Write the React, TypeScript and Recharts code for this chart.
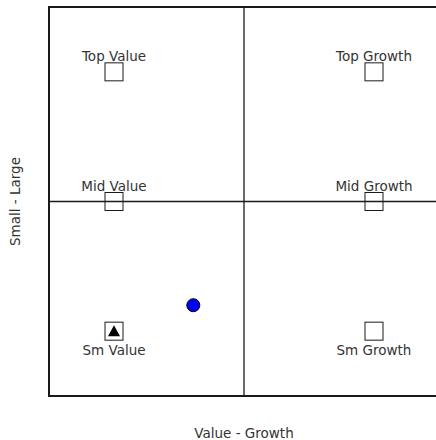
import {
  ReferenceArea,
  ReferenceLine,
  Scatter,
  ScatterChart,
  XAxis,
  YAxis,
} from "recharts";

// style box cells: -2 = value/small, 0 = mid, 2 = growth/top
const styleLabels = ["Top Value", "Top Growth", "Mid Value", "Mid Growth", "Sm Value", "Sm Growth"];
const styleX = [-2, 2, -2, 2, -2, 2];
const styleY = [2, 2, 0, 0, -2, -2];

// benchmark marker (triangle) and fund position (dot)
const benchX = [-2];
const benchY = [-2];
const fundX = [-0.78];
const fundY = [-1.6];

const boxData = styleLabels.map((name, i) => ({ name, x: styleX[i], y: styleY[i] }));
const benchData = benchX.map((x, i) => ({ x, y: benchY[i] }));
const fundData = fundX.map((x, i) => ({ x, y: fundY[i] }));

const FONT = "Verdana, 'DejaVu Sans', sans-serif";
const INK = "#333";
const LINE = "#1a1a1a";
const FS = 13.5;

function StyleBox(props: any) {
  const { cx, cy, payload } = props;
  const below = payload.y < 0;
  return (
    <g>
      <rect x={cx - 9} y={cy - 9} width={18} height={18} fill="none" stroke={LINE} strokeWidth={1} />
      <text
        x={cx}
        y={below ? cy + 24 : cy - 11}
        textAnchor="middle"
        fontFamily={FONT}
        fontSize={FS}
        fill={INK}
      >
        {payload.name}
      </text>
    </g>
  );
}

function Triangle(props: any) {
  const { cx, cy } = props;
  return <path d={`M${cx},${cy - 6}L${cx + 6},${cy + 5}L${cx - 6},${cy + 5}Z`} fill="#000" />;
}

function Dot(props: any) {
  const { cx, cy } = props;
  return <circle cx={cx} cy={cy} r={6.5} fill="#0000ff" stroke="#000" strokeWidth={1} />;
}

export default function App() {
  return (
    <div
      style={{
        position: "fixed",
        top: 0,
        left: 0,
        width: 436,
        height: 440,
        overflow: "hidden",
        background: "#fff",
      }}
    >
      <ScatterChart width={445} height={440} margin={{ top: 7, right: 6, bottom: 0, left: 0 }}>
        <XAxis
          type="number"
          dataKey="x"
          domain={[-3, 3]}
          tick={false}
          axisLine={false}
          tickLine={false}
          height={44}
          label={{
            value: "Value - Growth",
            position: "insideBottom",
            offset: 2,
            fill: INK,
            fontSize: FS,
            fontFamily: FONT,
          }}
        />
        <YAxis
          type="number"
          dataKey="y"
          domain={[-3, 3]}
          tick={false}
          axisLine={false}
          tickLine={false}
          width={49}
          label={{
            value: "Small - Large",
            angle: -90,
            position: "insideLeft",
            offset: 15,
            fill: INK,
            fontSize: FS,
            fontFamily: FONT,
            style: { textAnchor: "middle" },
          }}
        />
        <ReferenceArea
          x1={-3}
          x2={3}
          y1={-3}
          y2={3}
          fill="none"
          stroke={LINE}
          strokeWidth={2}
          ifOverflow="visible"
        />
        <ReferenceLine x={0} stroke={LINE} strokeWidth={1.3} />
        <ReferenceLine y={0} stroke={LINE} strokeWidth={1.3} />
        <Scatter data={boxData} shape={<StyleBox />} isAnimationActive={false} />
        <Scatter data={benchData} shape={<Triangle />} isAnimationActive={false} />
        <Scatter data={fundData} shape={<Dot />} isAnimationActive={false} />
      </ScatterChart>
    </div>
  );
}
